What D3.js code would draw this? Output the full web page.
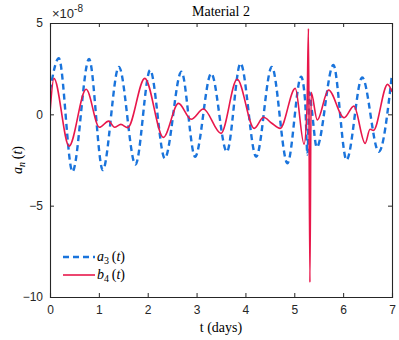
<!DOCTYPE html>
<html><head><meta charset="utf-8">
<script src="https://cdn.jsdelivr.net/npm/d3@7"></script>
<style>body{margin:0;background:#fff}</style>
</head><body>
<svg id="c" width="399" height="340"></svg>
<script>
// data (values in units of 1e-8)
const a3T = [0, 0.18, 0.46, 0.80, 1.08, 1.41, 1.75, 2.05, 2.35, 2.69, 2.97, 3.30, 3.62, 3.90, 4.22, 4.54, 4.86, 5.14, 5.22, 5.27, 5.31, 5.36, 5.46, 5.80, 6.07, 6.39, 6.73, 7.0];
const a3V = [1.3, 3.07, -3.14, 3.03, -3.05, 2.6, -2.75, 2.42, -2.41, 2.33, -2.32, 2.24, -2.05, 2.79, -2.32, 2.6, -2.68, 2.06, 0.8, -2.2, 1.2, 0.2, -1.8, 2.7, -2.5, 2.02, -2.05, 2.2];
const b4T = [0, 0.08, 0.39, 0.74, 1.01, 1.20, 1.32, 1.45, 1.59, 1.94, 2.32, 2.63, 2.89, 3.14, 3.50, 3.83, 4.18, 4.37, 4.54, 4.71, 5.02, 5.20, 5.26, 5.29, 5.32, 5.345, 5.47, 5.70, 6.02, 6.22, 6.45, 6.55, 6.62, 6.91, 7.0];
const b4V = [0.1, 1.97, -1.74, 1.37, -0.71, -0.37, -0.71, -0.55, -0.73, 1.97, -1.26, 0.6, -0.27, 0.29, -1.04, 1.92, -0.77, -0.16, -0.49, -0.77, 1.42, -1.63, 0.3, 4.7, -9.2, 1.2, -0.31, 1.33, -0.19, 0.45, -1.59, -0.82, -0.88, 1.64, 1.24];
const xTicks = [0, 1, 2, 3, 4, 5, 6, 7];
const yTicks = [5, 0, -5, -10];
const seriesNames = ["a3", "b4"];

const svg = d3.select("#c");
const L = 50, R = 392, T = 23, B = 297;
const x = d3.scaleLinear().domain([0, 7]).range([L, R]);
const y = d3.scaleLinear().domain([-10, 5]).range([B, T]);
const axisColor = "#262626";

svg.append("clipPath").attr("id", "clip").append("rect")
  .attr("x", L).attr("y", T).attr("width", R - L).attr("height", B - T);

const line = d3.line().x(d => x(d[0])).y(d => y(d[1])).curve(d3.curveMonotoneX);
const g = svg.append("g").attr("clip-path", "url(#clip)");
g.append("path").datum(a3T.map((t, i) => [t, a3V[i]]))
  .attr("d", line).attr("fill", "none").attr("stroke", "#1a74dc")
  .attr("stroke-width", 2.4).attr("stroke-dasharray", "6,4");
g.append("path").datum(b4T.map((t, i) => [t, b4V[i]]))
  .attr("d", line).attr("fill", "none").attr("stroke", "#e8174b")
  .attr("stroke-width", 1.6);

// axes
const fontSans = "'Liberation Sans', Arial, sans-serif";
const fontSerif = "'Liberation Serif', 'DejaVu Serif', serif";
const ax = svg.append("g").attr("transform", `translate(0,${B})`)
  .call(d3.axisBottom(x).tickValues(xTicks).tickSize(-4).tickPadding(8).tickFormat(d3.format("d")));
const axT = svg.append("g").attr("transform", `translate(0,${T})`)
  .call(d3.axisTop(x).tickValues(xTicks).tickSize(-4).tickFormat(""));
const ay = svg.append("g").attr("transform", `translate(${L},0)`)
  .call(d3.axisLeft(y).tickValues(yTicks).tickSize(-4).tickPadding(7).tickFormat(d3.format("d")));
const ayR = svg.append("g").attr("transform", `translate(${R},0)`)
  .call(d3.axisRight(y).tickValues(yTicks).tickSize(-4).tickFormat(""));
[ax, axT, ay, ayR].forEach(a => {
  a.selectAll("path").attr("stroke", axisColor).attr("stroke-width", 1.1);
  a.selectAll("line").attr("stroke", axisColor).attr("stroke-width", 1);
  a.selectAll("text").attr("fill", axisColor).style("font-family", fontSans).style("font-size", "12px");
});

// exponent label
const ex = svg.append("text").attr("x", 52).attr("y", 18).attr("fill", axisColor)
  .style("font-family", fontSans).style("font-size", "13px");
ex.append("tspan").text("\u00d710");
ex.append("tspan").attr("dy", -6).style("font-size", "10px").text("-8");

// title
svg.append("text").attr("x", 221).attr("y", 16).attr("text-anchor", "middle")
  .style("font-family", fontSerif).style("font-size", "14px").attr("fill", "#000").text("Material 2");

// x label
svg.append("text").attr("x", 221).attr("y", 332).attr("text-anchor", "middle")
  .style("font-family", fontSerif).style("font-size", "14px").attr("fill", "#000").text("t (days)");

// y label
const yl = svg.append("text").attr("transform", "translate(22,160) rotate(-90)").attr("text-anchor", "middle")
  .style("font-family", fontSerif).style("font-size", "14px").attr("fill", "#000");
yl.append("tspan").style("font-style", "italic").text("a");
yl.append("tspan").attr("dy", 3).style("font-style", "italic").style("font-size", "10px").text("n");
yl.append("tspan").attr("dy", -3).text("\u2009(");
yl.append("tspan").style("font-style", "italic").text("t");
yl.append("tspan").text(")");

// legend
const leg = [{name: "a", sub: "3", color: "#1a74dc", dash: "6,4", w: 2.4, yy: 257},
             {name: "b", sub: "4", color: "#e8174b", dash: null, w: 1.6, yy: 275}];
leg.forEach((d, i) => {
  svg.append("line").attr("x1", 63).attr("x2", 95).attr("y1", d.yy).attr("y2", d.yy)
    .attr("stroke", d.color).attr("stroke-width", d.w).attr("stroke-dasharray", d.dash);
  const t = svg.append("text").attr("x", 97).attr("y", d.yy + 4)
    .style("font-family", fontSerif).style("font-size", "14px").attr("fill", "#000");
  t.append("tspan").style("font-style", "italic").text(d.name);
  t.append("tspan").attr("dy", 3).style("font-size", "10px").text(d.sub);
  t.append("tspan").attr("dy", -3).text("\u2009(");
  t.append("tspan").style("font-style", "italic").text("t");
  t.append("tspan").text(")");
});
</script>
</body></html>
